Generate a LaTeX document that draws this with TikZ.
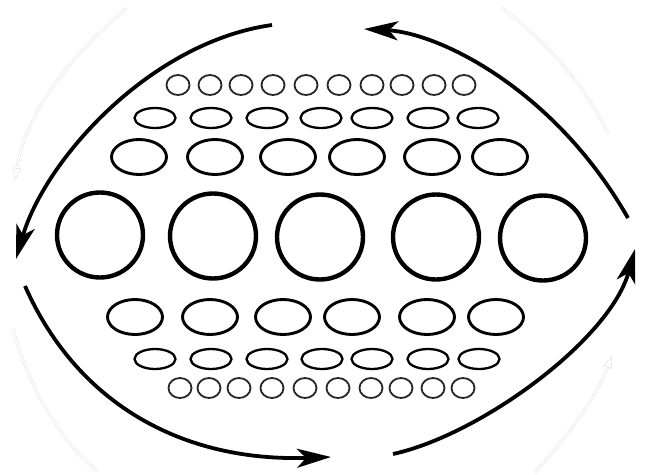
\documentclass[tikz,border=0pt]{standalone}
\usetikzlibrary{shapes.geometric,arrows.meta}
\begin{document}
\begin{tikzpicture}[x=1pt,y=-1pt,
  ov/.style={ellipse,draw,inner sep=0pt,outer sep=0pt},
  tinyc/.style={ov,draw=black!85,line width=1.8pt,minimum width=23pt,minimum height=20pt},
  smalle/.style={ov,line width=2.3pt,minimum width=41pt,minimum height=20pt},
  mede/.style={ov,line width=2.9pt,minimum width=55pt,minimum height=35pt},
  bigc/.style={ov,line width=4.4pt,minimum width=86pt,minimum height=85pt},
  flow/.style={line width=3.8pt,-{Stealth[length=34pt,width=19pt,inset=9pt]}},
  ghost/.style={draw=black!12,line width=0.5pt,double=white,double distance=1.6pt},
  ghosthead/.style={-{Triangle[open,length=12pt,width=9pt]}}
]
\fill[white] (0,0) rectangle (645,474);
\useasboundingbox (0,0) rectangle (645,474);

% ghost arrows (very faint)
\coordinate (g1a) at (127,8);  \coordinate (g1b) at (15,180);
\coordinate (g2a) at (502,8);  \coordinate (g2b) at (608,133);
\coordinate (g3a) at (13,329); \coordinate (g3b) at (97,471);
\coordinate (g4a) at (535,472);\coordinate (g4b) at (612,356);
\draw[ghost,ghosthead] (g1a) .. controls (70,55) and (25,115) .. (g1b);
\draw[ghost] (g2a) .. controls (545,40) and (585,85) .. (g2b);
\draw[ghost] (g3a) .. controls (30,390) and (60,440) .. (g3b);
\draw[ghost,ghosthead] (g4a) .. controls (565,440) and (595,400) .. (g4b);

% row 1: tiny circles
\foreach \x [count=\i] in {178,210,241,273,306,339,372,402,434,464}
  \node[tinyc] (a\i) at (\x,85) {};
% row 2: small ellipses
\foreach \x [count=\i] in {155,211,267,321,372,428,478}
  \node[smalle] (b\i) at (\x,118) {};
% row 3: medium ellipses
\foreach \x [count=\i] in {139,215,288,357,432,500}
  \node[mede] (c\i) at (\x,157) {};
% row 4: big circles
\node[bigc] (d1) at (100,235) {};
\node[bigc] (d2) at (213,236) {};
\node[bigc] (d3) at (320,237) {};
\node[bigc] (d4) at (436,237) {};
\node[bigc] (d5) at (543,238) {};
% row 5: medium ellipses
\foreach \x [count=\i] in {135,210,283,352,427,496}
  \node[mede] (e\i) at (\x,317) {};
% row 6: small ellipses
\foreach \x [count=\i] in {155,211,267,322,372,428,479}
  \node[smalle] (f\i) at (\x,359) {};
% row 7: tiny circles
\foreach \x [count=\i] in {180,209,239,272,305,338,371,401,433,463}
  \node[tinyc] (h\i) at (\x,388) {};

% flow arrows
\coordinate (tl0) at (272,25);  \coordinate (tl1) at (16,259);
\coordinate (tr0) at (628,218); \coordinate (tr1) at (364,29);
\coordinate (bl0) at (25,286);  \coordinate (bl1) at (331,457);
\coordinate (br0) at (393,454); \coordinate (br1) at (635,249);
\draw[flow] (tl0) .. controls (150,42) and (45,160) .. (tl1);
\draw[flow] (tr0) .. controls (555,90) and (440,33) .. (tr1);
\draw[flow] (bl0) .. controls (80,410) and (190,462) .. (bl1);
\draw[flow] (br0) .. controls (480,435) and (610,340) .. (br1);
\end{tikzpicture}
\end{document}
